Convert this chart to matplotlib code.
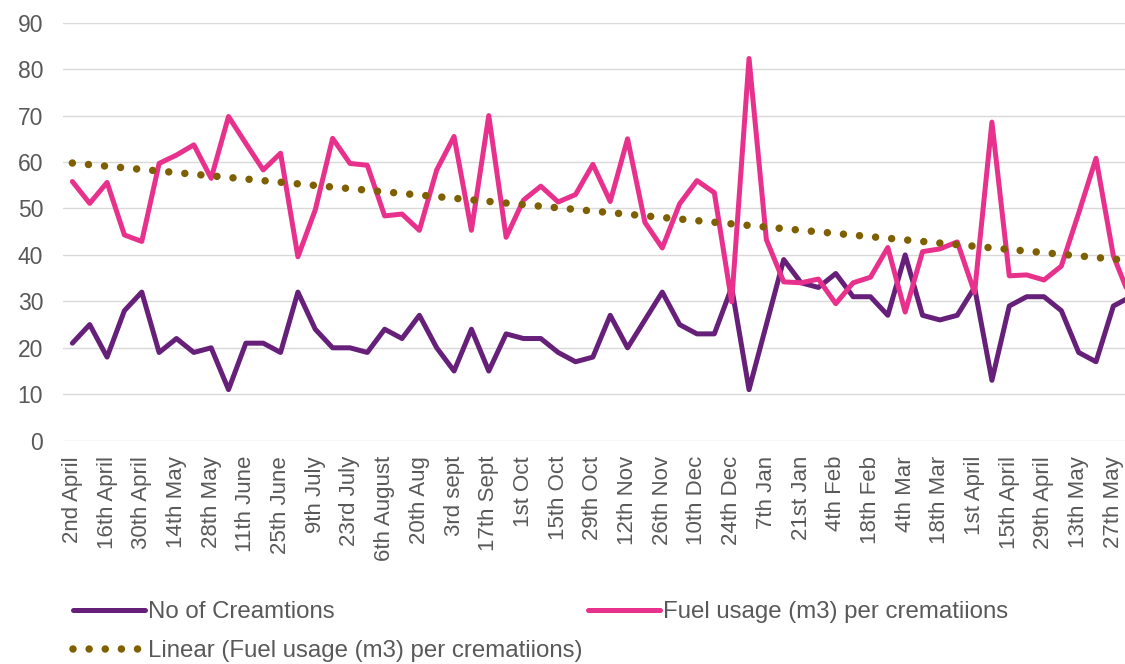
import numpy as np
import matplotlib
matplotlib.use("Agg")
from matplotlib import pyplot as plt

# weekly values, 2nd April -> early June
cremations = [21, 25, 18, 28, 32, 19, 22, 19, 20, 11,
              21, 21, 19, 32, 24, 20, 20, 19, 24, 22,
              27, 20, 15, 24, 15, 23, 22, 22, 19, 17,
              18, 27, 20, 26, 32, 25, 23, 23, 33, 11,
              25, 39, 34, 33, 36, 31, 31, 27, 40, 27,
              26, 27, 33, 13, 29, 31, 31, 28, 19, 17,
              29, 31]
fuel_per_cremation = [55.8, 51.1, 55.6, 44.3, 42.9, 59.7, 61.5, 63.7, 56.5, 69.8,
                      64.0, 58.3, 61.9, 39.6, 49.7, 65.1, 59.7, 59.3, 48.4, 48.8,
                      45.3, 58.3, 65.5, 45.3, 70.0, 43.8, 51.8, 54.8, 51.4, 53.0,
                      59.5, 51.5, 65.0, 47.0, 41.5, 51.0, 56.0, 53.4, 29.9, 82.3,
                      43.3, 34.2, 34.0, 34.8, 29.5, 34.0, 35.2, 41.6, 27.7, 40.7,
                      41.3, 42.8, 31.9, 68.6, 35.5, 35.7, 34.6, 37.6, 49.0, 60.8,
                      39.8, 30.5]
tick_labels = ["2nd April", "16th April", "30th April", "14th May", "28th May",
               "11th June", "25th June", "9th July", "23rd July", "6th August",
               "20th Aug", "3rd sept", "17th Sept", "1st Oct", "15th Oct",
               "29th Oct", "12th Nov", "26th Nov", "10th Dec", "24th Dec",
               "7th Jan", "21st Jan", "4th Feb", "18th Feb", "4th Mar",
               "18th Mar", "1st April", "15th April", "29th April", "13th May",
               "27th May"]

plt.rcParams['font.family'] = ['Liberation Sans', 'DejaVu Sans']
text_col = '#595959'
fs = 16

x = np.arange(len(cremations))
# linear trendline, same as Excel's "Linear" option
slope, intercept = np.polyfit(x, fuel_per_cremation, 1)
trend = slope * x + intercept

fig = plt.figure(figsize=(11.25, 6.64), dpi=100)
ax = fig.add_axes([0.0563, 0.3363, 0.9437, 0.6295])

ax.plot(x, cremations, color='#66207a', lw=3.6, solid_joinstyle='round',
        solid_capstyle='round', label='No of Creamtions')
ax.plot(x, fuel_per_cremation, color='#e8318c', lw=3.6, solid_joinstyle='round',
        solid_capstyle='round', label='Fuel usage (m3) per crematiions')
ax.plot(x, trend, color='#7f6000', lw=5.4, linestyle=(0, (0.001, 2.15)),
        dash_capstyle='round',
        label='Linear (Fuel usage (m3) per crematiions)')

ax.set_xlim(-0.52, 60.67)
ax.set_ylim(0, 90)
ax.set_yticks(np.arange(0, 91, 10))
ax.set_xticks(x[::2][:len(tick_labels)])
ax.set_xticklabels(tick_labels, rotation=90)
ax.tick_params(axis='both', length=0, labelsize=fs, labelcolor=text_col)
ax.tick_params(axis='y', labelsize=16.5, pad=14.5)
ax.tick_params(axis='x', pad=11)
ax.grid(axis='y', color='#d9d9d9', lw=1.0)
ax.set_axisbelow(True)
for s in ax.spines.values():
    s.set_visible(False)

h, l = ax.get_legend_handles_labels()
leg = fig.legend([h[0], h[2], h[1]], [l[0], l[2], l[1]], ncol=2,
                 loc='upper left', bbox_to_anchor=(0.065, 0.095),
                 frameon=False, fontsize=17.3, labelcolor=text_col,
                 handlelength=3.0, handletextpad=0.13, columnspacing=0.22,
                 labelspacing=0.72, borderaxespad=0, borderpad=0)

fig.savefig('out.png', dpi=100)
